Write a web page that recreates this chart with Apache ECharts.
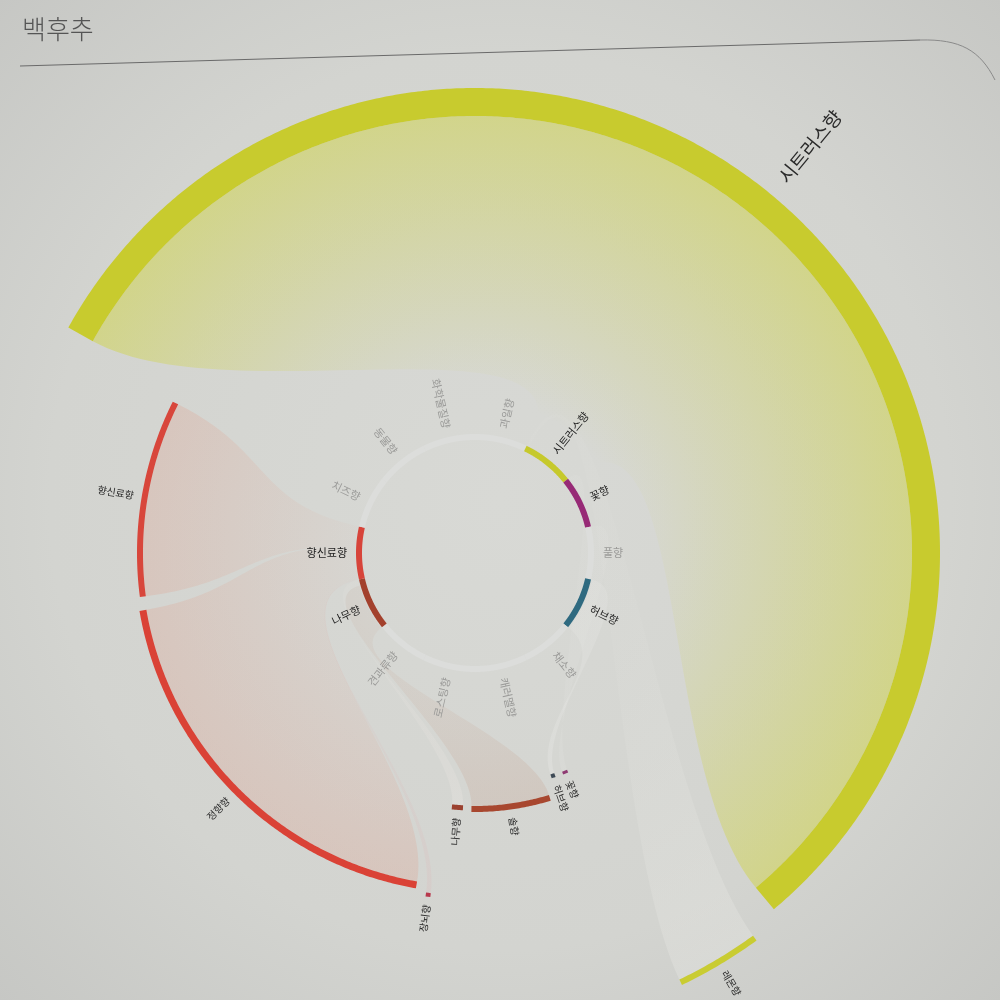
<!DOCTYPE html>
<html>
<head>
<meta charset="utf-8">
<title>백후추</title>
<script src="https://cdn.jsdelivr.net/npm/echarts@6/dist/echarts.min.js"></script>
<style>
  html, body { margin: 0; padding: 0; background: #d6d7d3; }
  #main { width: 1000px; height: 1000px; }
</style>
</head>
<body>
<div id="main"></div>
<script>
// 안쪽 고리: 향 분류 (시계 방향, 위에서 시작)
const innerNames = ['과일향', '시트러스향', '꽃향', '풀향', '허브향', '채소향', '캐러멜향',
  '로스팅향', '견과류향', '나무향', '향신료향', '치즈향', '동물향', '화학물질향'];
const innerShare = [1, 1, 1, 1, 1, 1, 1, 1, 1, 1, 1, 1, 1, 1];

// 바깥 향 (각도: 도, 위=0 시계 방향 / 반지름: 축 값)
const noteNames  = ['시트러스향', '레몬향', '꽃향', '허브향', '솔향', '나무향', '장뇌향', '정향향', '향신료향'];
const noteParent = ['시트러스향', '시트러스향', '꽃향', '허브향', '나무향', '나무향', '향신료향', '향신료향', '향신료향'];
const noteStart  = [299, 144, 157.0, 160.2, 163, 182.7, 187.4, 190, 262.5];
const noteEnd    = [500, 154.4, 158.3, 161.2, 180.8, 185.2, 188.2, 260.2, 296.6];
const noteLevel  = [451, 476, 237, 236, 256, 255, 345, 337, 335];
const noteWeight = [20, 1, 1, 1, 8, 1, 0.3, 12, 8];

// 스타일
const innerColor = {
  '시트러스향': '#c6c92c', '꽃향': '#972a76', '허브향': '#2f6a80',
  '나무향': '#a3412d', '향신료향': '#d7443a'
};
const ringGray = '#dcdddb';
const noteColor = {
  '시트러스향': '#c8cb2e', '레몬향': '#c9cc32', '꽃향': '#8e3a72', '허브향': '#3e4a55',
  '솔향': '#a8472f', '나무향': '#9b412f', '장뇌향': '#b8384c', '정향향': '#da4236', '향신료향': '#d8463b'
};
const noteWidth = {
  '시트러스향': 28, '레몬향': 6, '꽃향': 3, '허브향': 4, '솔향': 6, '나무향': 5,
  '장뇌향': 4, '정향향': 7, '향신료향': 6
};
const ribbonStyle = {
  '시트러스향': { rgb: '208,212,70', a0: 0.0, a1: 0.5 },
  '레몬향': { rgb: '236,236,232', a0: 0.06, a1: 0.3 },
  '꽃향': { rgb: '236,236,234', a0: 0.05, a1: 0.15 },
  '허브향': { rgb: '236,236,234', a0: 0.15, a1: 0.3 },
  '솔향': { rgb: '196,156,136', a0: 0.06, a1: 0.24 },
  '나무향': { rgb: '232,228,224', a0: 0.08, a1: 0.35 },
  '장뇌향': { rgb: '220,185,185', a0: 0.1, a1: 0.25 },
  '정향향': { rgb: '226,150,128', a0: 0.03, a1: 0.24 },
  '향신료향': { rgb: '226,150,128', a0: 0.03, a1: 0.24 }
};
const FONT = '"Noto Sans CJK KR", "Noto Sans", sans-serif';
const RING_R = 116, RING_W = 6, RIBBON_R = 120;

// 안쪽 고리 각도 범위
const shareSum = innerShare.reduce((a, b) => a + b, 0);
const innerSpan = {};
let acc = 0;
innerNames.forEach((n, i) => {
  const s = acc / shareSum * 360;
  acc += innerShare[i];
  innerSpan[n] = [s, acc / shareSum * 360];
});
const innerData = innerNames.map((n, i) => [innerSpan[n][0], innerSpan[n][1], i]);

// 리본: 부모 구간을 바깥 향 각도 순서대로 무게 비율로 나눔
const ribbonData = [];
const parentsDone = {};
noteParent.forEach(p => {
  if (parentsDone[p]) return;
  parentsDone[p] = true;
  const idx = noteParent.map((q, i) => q === p ? i : -1).filter(i => i >= 0)
    .sort((a, b) => noteStart[a] - noteStart[b]);
  const tot = idx.reduce((s, i) => s + noteWeight[i], 0);
  const [s0, s1] = innerSpan[p];
  let c = s0;
  idx.forEach(i => {
    const w = (s1 - s0) * noteWeight[i] / tot;
    ribbonData.push([c, c + w, noteStart[i], noteEnd[i], noteLevel[i], i]);
    c += w;
  });
});
const noteData = noteNames.map((n, i) => [noteStart[i], noteEnd[i], noteLevel[i], i]);

function arcPts(api, r, a0, a1) {
  const n = Math.max(2, Math.ceil(Math.abs(a1 - a0) / 0.4));
  const pts = [];
  for (let k = 0; k <= n; k++) pts.push(api.coord([r, a0 + (a1 - a0) * k / n]));
  return pts;
}
function bezPts(p0, p1, p2, p3) {
  const pts = [];
  for (let k = 1; k < 60; k++) {
    const t = k / 60, u = 1 - t;
    const a = u * u * u, b = 3 * u * u * t, c = 3 * u * t * t, d = t * t * t;
    pts.push([a * p0[0] + b * p1[0] + c * p2[0] + d * p3[0],
              a * p0[1] + b * p1[1] + c * p2[1] + d * p3[1]]);
  }
  return pts;
}
function band(api, r0, r1, a0, a1) {
  return arcPts(api, r1, a0, a1).concat(arcPts(api, r0, a1, a0));
}
function labelEl(api, name, r, ang, color, size) {
  const p = api.coord([r, ang]);
  const t = ((ang % 360) + 360) % 360;
  const right = t < 180;
  const rot = right ? 90 - t : 270 - t;
  return {
    type: 'text', x: p[0], y: p[1], rotation: rot * Math.PI / 180, silent: true,
    style: { text: name, fill: color, fontSize: size, fontFamily: FONT,
      align: right ? 'left' : 'right', verticalAlign: 'middle' }
  };
}

function renderRibbon(params, api) {
  const a0 = api.value(0), a1 = api.value(1), b0 = api.value(2), b1 = api.value(3);
  const name = noteNames[api.value(5)];
  const rOut = api.value(4) - noteWidth[name] / 2;
  const rm = RIBBON_R + (rOut - RIBBON_R) * 0.5;
  const pIn0 = api.coord([RIBBON_R, a0]), pIn1 = api.coord([RIBBON_R, a1]);
  const pOut0 = api.coord([rOut, b0]), pOut1 = api.coord([rOut, b1]);
  let pts = arcPts(api, RIBBON_R, a0, a1);
  pts = pts.concat(bezPts(pIn1, api.coord([rm, a1]), api.coord([rm, b1]), pOut1));
  pts = pts.concat(arcPts(api, rOut, b1, b0));
  pts = pts.concat(bezPts(pOut0, api.coord([rm, b0]), api.coord([rm, a0]), pIn0));
  const c = api.coord([0, 0]);
  const st = ribbonStyle[name];
  const fill = {
    type: 'radial', x: c[0], y: c[1], r: rOut, global: true,
    colorStops: [
      { offset: 0, color: 'rgba(' + st.rgb + ',' + st.a0 + ')' },
      { offset: 0.35, color: 'rgba(' + st.rgb + ',' + st.a0 + ')' },
      { offset: 1, color: 'rgba(' + st.rgb + ',' + st.a1 + ')' }
    ]
  };
  return { type: 'polygon', shape: { points: pts }, style: { fill: fill } };
}

function renderNote(params, api) {
  const s = api.value(0), e = api.value(1), lv = api.value(2);
  const name = noteNames[api.value(3)];
  const w = noteWidth[name];
  const big = w > 10;
  const labR = lv + w / 2 + (big ? 18 : 8);
  return {
    type: 'group',
    children: [
      { type: 'polygon', shape: { points: band(api, lv - w / 2, lv + w / 2, s, e) },
        style: { fill: noteColor[name] } },
      labelEl(api, name, labR, (s + e) / 2, '#2a2a2a', big ? 19 : 10)
    ]
  };
}

function renderInner(params, api) {
  const s = api.value(0), e = api.value(1);
  const name = innerNames[api.value(2)];
  const col = innerColor[name];
  return {
    type: 'group',
    children: [
      { type: 'polygon', shape: { points: band(api, RING_R - RING_W / 2, RING_R + RING_W / 2, s, e) },
        style: { fill: col || ringGray } },
      labelEl(api, name, RING_R + 12, (s + e) / 2, col ? '#1e1e1e' : '#9a9a98', 11)
    ]
  };
}

const chart = echarts.init(document.getElementById('main'));
chart.setOption({
  animation: false,
  backgroundColor: 'transparent',
  polar: { center: [475, 553], radius: 600 },
  angleAxis: { type: 'value', min: 0, max: 360, startAngle: 90, clockwise: true, show: false },
  radiusAxis: { type: 'value', min: 0, max: 600, show: false },
  graphic: [
    { type: 'rect', z: -10, silent: true, shape: { x: 0, y: 0, width: 1000, height: 1000 },
      style: { fill: { type: 'radial', x: 0.5, y: 0.5, r: 0.75,
        colorStops: [{ offset: 0, color: '#d8d9d5' }, { offset: 0.6, color: '#d3d4d0' }, { offset: 1, color: '#c4c5c2' }] } } },
    { type: 'text', left: 22, top: 16, silent: true,
      style: { text: '백후추', fill: '#555', fontSize: 26, fontWeight: 300, fontFamily: FONT } },
    { type: 'line', silent: true, shape: { x1: 20, y1: 66, x2: 920, y2: 40 },
      style: { stroke: '#6a6a6a', lineWidth: 1 } },
    { type: 'bezierCurve', silent: true,
      shape: { x1: 920, y1: 40, cpx1: 960, cpy1: 39, cpx2: 980, cpy2: 50, x2: 995, y2: 80 },
      style: { stroke: '#8a8a8a', lineWidth: 1, fill: 'none' } }
  ],
  series: [
    { type: 'custom', name: 'ribbons', coordinateSystem: 'polar', silent: true,
      dimensions: ['a0', 'a1', 'b0', 'b1', 'level', 'note'],
      renderItem: renderRibbon, data: ribbonData, z: 1 },
    { type: 'custom', name: 'notes', coordinateSystem: 'polar', silent: true,
      dimensions: ['start', 'end', 'level', 'note'],
      renderItem: renderNote, data: noteData, z: 2 },
    { type: 'custom', name: 'inner', coordinateSystem: 'polar', silent: true,
      dimensions: ['start', 'end', 'idx'],
      renderItem: renderInner, data: innerData, z: 3 }
  ]
});
</script>
</body>
</html>
